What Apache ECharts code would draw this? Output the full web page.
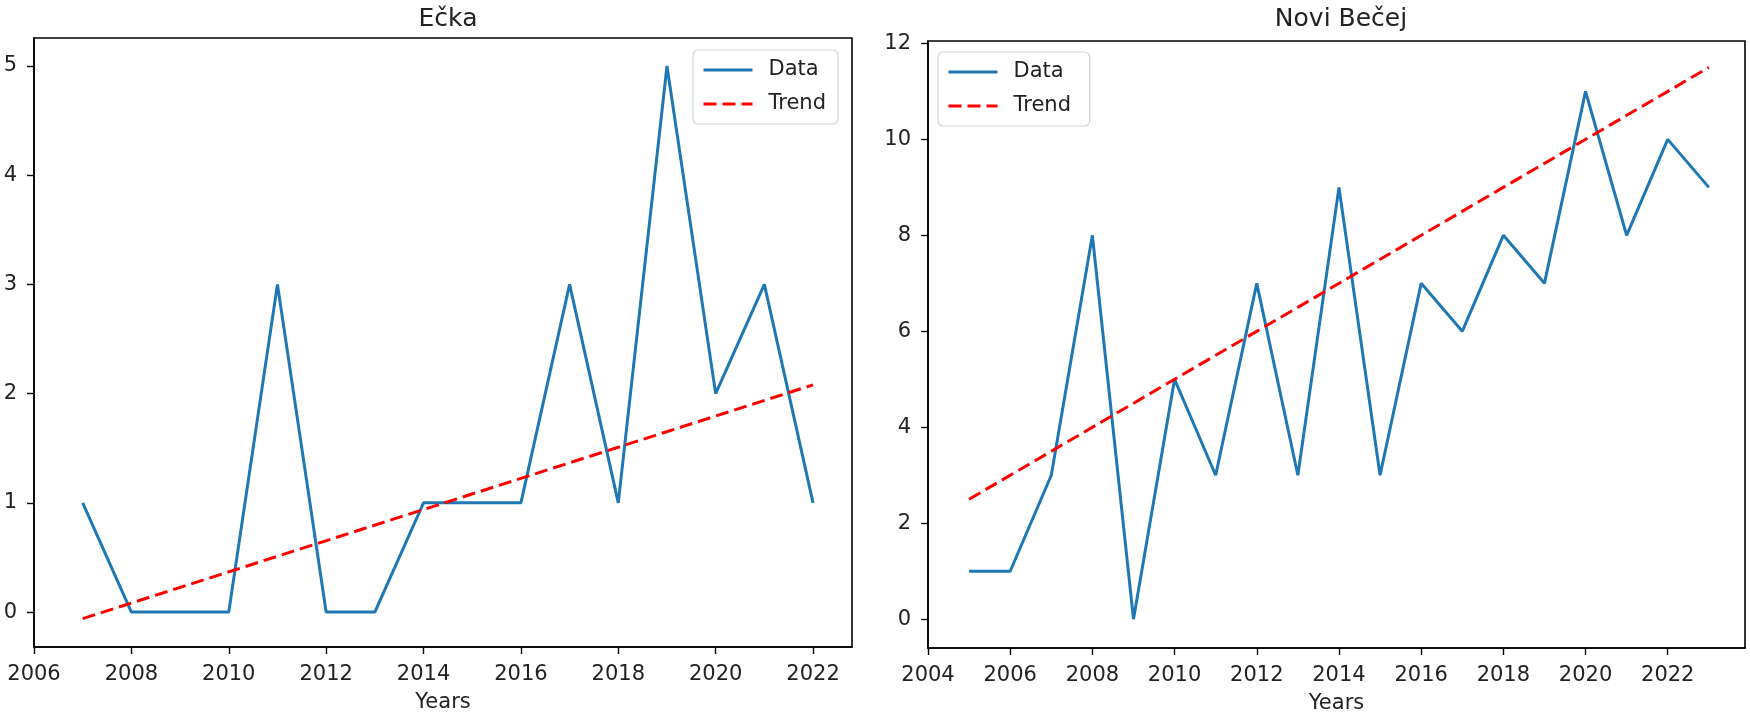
<!DOCTYPE html>
<html>
<head>
<meta charset="utf-8">
<script src="https://cdn.jsdelivr.net/npm/echarts@6/dist/echarts.min.js"></script>
<style>
html,body{margin:0;padding:0;background:#fff;}
#chart{width:1750px;height:719px;}
</style>
</head>
<body>
<div id="chart"></div>
<script>
// ---- data ----
const titles = ['Ečka', 'Novi Bečej'];
const yearsEcka = [2007,2008,2009,2010,2011,2012,2013,2014,2015,2016,2017,2018,2019,2020,2021,2022];
const valuesEcka = [1,0,0,0,3,0,0,1,1,1,3,1,5,2,3,1];
const trendEckaYears = [2007, 2022];
const trendEckaValues = [-0.06, 2.08];

const yearsNB = [2005,2006,2007,2008,2009,2010,2011,2012,2013,2014,2015,2016,2017,2018,2019,2020,2021,2022,2023];
const valuesNB = [1,1,3,8,0,5,3,7,3,9,3,7,6,8,7,11,8,10,9];
const trendNBYears = [2005, 2023];
const trendNBValues = [2.5, 11.5];

const xTicksEcka = [2006,2008,2010,2012,2014,2016,2018,2020,2022];
const yTicksEcka = [0,1,2,3,4,5];
const xTicksNB = [2004,2006,2008,2010,2012,2014,2016,2018,2020,2022];
const yTicksNB = [0,2,4,6,8,10,12];
const seriesNames = ['Data', 'Trend'];

// ---- helpers ----
const pairs = (xs, ys) => xs.map((x, i) => [x, ys[i]]);
const TXT = '#222';
const FONT = 'DejaVu Sans';

function xAxisDef(gi, min, max, ticks) {
  return {
    type: 'value', gridIndex: gi, min: min, max: max,
    name: 'Years', nameLocation: 'middle', nameGap: 45,
    nameTextStyle: {fontFamily: FONT, fontSize: 21, color: TXT},
    axisLine: {show: true, onZero: false, lineStyle: {color: '#000', width: 1.6}},
    axisTick: {show: true, length: 7, lineStyle: {color: '#000', width: 1.4}, customValues: ticks},
    axisLabel: {fontFamily: FONT, fontSize: 21, color: TXT, margin: 17, customValues: ticks,
      formatter: v => String(v)},
    splitLine: {show: false}
  };
}
function yAxisDef(gi, min, max, ticks) {
  return {
    type: 'value', gridIndex: gi, min: min, max: max,
    axisLine: {show: true, onZero: false, lineStyle: {color: '#000', width: 1.6}},
    axisTick: {show: true, length: 7, lineStyle: {color: '#000', width: 1.4}, customValues: ticks},
    axisLabel: {fontFamily: FONT, fontSize: 21, color: TXT, margin: 17, customValues: ticks,
      formatter: v => String(v)},
    splitLine: {show: false}
  };
}
function legendDef(left, top, ids) {
  return {
    left: left, top: top, orient: 'vertical',
    data: ids,
    itemWidth: 49, itemHeight: 14, itemGap: 10,
    padding: [8, 12, 8, 9],
    backgroundColor: 'rgba(255,255,255,0.85)',
    borderColor: '#d5d5d5', borderWidth: 1.2, borderRadius: 5,
    itemStyle: {opacity: 0},
    lineStyle: {width: 3},
    textStyle: {fontFamily: FONT, fontSize: 21, color: TXT, lineHeight: 24, padding: [0, 0, 0, 11]},
    selectedMode: false
  };
}

const LW = 3;
const DASH = [13, 6];
const chart = echarts.init(document.getElementById('chart'), null, {renderer: 'canvas'});
const option = {
  backgroundColor: '#fff',
  animation: false,
  title: [
    {text: titles[0], left: 443, top: 2, textAlign: 'center',
     textStyle: {fontFamily: FONT, fontSize: 25, fontWeight: 'normal', color: TXT}},
    {text: titles[1], left: 1336, top: 2, textAlign: 'center',
     textStyle: {fontFamily: FONT, fontSize: 25, fontWeight: 'normal', color: TXT}}
  ],
  grid: [
    {left: 34, top: 38, width: 818, height: 609, show: true, borderColor: '#000', borderWidth: 1.6, backgroundColor: 'transparent'},
    {left: 928, top: 41, width: 817, height: 609, show: true, borderColor: '#000', borderWidth: 1.6, backgroundColor: 'transparent'}
  ],
  xAxis: [
    xAxisDef(0, 2006, 2022.8, xTicksEcka),
    xAxisDef(1, 2004, 2023.88, xTicksNB)
  ],
  yAxis: [
    yAxisDef(0, -0.32, 5.256, yTicksEcka),
    yAxisDef(1, -0.6, 12.05, yTicksNB)
  ],
  legend: [
    legendDef(693, 50, ['Data', 'Trend']),
    legendDef(938, 52, ['Data ', 'Trend '])
  ],
  series: [
    {name: seriesNames[0], type: 'line', xAxisIndex: 0, yAxisIndex: 0,
     data: pairs(yearsEcka, valuesEcka), symbol: 'none',
     lineStyle: {color: '#1f77b4', width: LW}, itemStyle: {color: '#1f77b4'}},
    {name: seriesNames[1], type: 'line', xAxisIndex: 0, yAxisIndex: 0,
     data: pairs(trendEckaYears, trendEckaValues), symbol: 'none',
     lineStyle: {color: '#ff0000', width: LW, type: DASH}, itemStyle: {color: '#ff0000'}},
    {name: seriesNames[0] + ' ', type: 'line', xAxisIndex: 1, yAxisIndex: 1,
     data: pairs(yearsNB, valuesNB), symbol: 'none',
     lineStyle: {color: '#1f77b4', width: LW}, itemStyle: {color: '#1f77b4'}},
    {name: seriesNames[1] + ' ', type: 'line', xAxisIndex: 1, yAxisIndex: 1,
     data: pairs(trendNBYears, trendNBValues), symbol: 'none',
     lineStyle: {color: '#ff0000', width: LW, type: DASH}, itemStyle: {color: '#ff0000'}}
  ]
};
chart.setOption(option);
</script>
</body>
</html>
